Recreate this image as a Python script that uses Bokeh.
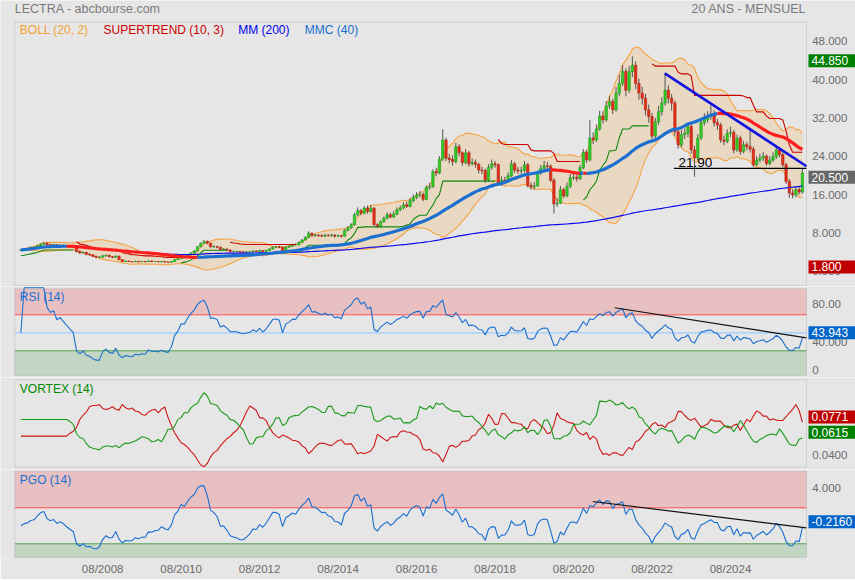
import numpy as np
import pandas as pd
from bokeh.plotting import figure
from bokeh.models import Range1d, FixedTicker, Label, BoxAnnotation
from bokeh.layouts import column
from bokeh.embed import file_html
from bokeh.resources import INLINE

# ---------------- data (monthly, Jul 2006 -> Jun 2026) ----------------
START_YEAR, START_MONTH = 2006, 7
close = [
    4.4, 4.6, 4.7, 4.9, 5.0, 5.3, 5.6, 5.8, 5.5, 5.4,
    5.5, 5.3, 5.4, 5.3, 5.2, 5.1, 5.0, 4.1, 3.8, 3.9,
    3.5, 3.4, 3.1, 2.9, 2.9, 3.2, 3.3, 3.0, 2.9, 3.1,
    2.4, 2.0, 2.1, 2.0, 1.95, 2.05, 1.95, 2.0, 1.95, 2.1,
    2.0, 2.0, 1.95, 2.0, 1.9, 1.85, 2.0, 2.4, 2.6, 3.0,
    3.0, 3.4, 3.8, 4.2, 5.1, 5.8, 6.2, 5.85, 5.1, 5.1,
    5.0, 4.45, 4.6, 4.4, 4.1, 4.1, 4.1, 4.0, 3.95, 4.0,
    4.05, 4.2, 4.1, 4.3, 4.1, 4.3, 4.6, 5.0, 5.05, 5.0,
    4.3, 5.0, 5.2, 5.5, 5.5, 6.0, 6.5, 7.0, 7.9, 7.4,
    7.5, 7.4, 7.3, 7.5, 7.4, 7.5, 7.3, 7.4, 7.3, 8.5,
    9.0, 9.7, 11.75, 12.65, 12.1, 13.15, 12.45, 13.15, 9.7, 9.3,
    10.35, 11.05, 11.75, 11.3, 11.9, 12.8, 13.2, 13.85, 13.5, 14.7,
    15.4, 15.9, 16.0, 15.0, 17.5, 17.6, 20.8, 20.5, 23.4, 27.4,
    23.6, 23.3, 22.9, 26.0, 24.7, 22.7, 24.7, 22.4, 22.7, 22.3,
    21.1, 21.0, 19.0, 21.7, 22.4, 22.2, 18.4, 19.0, 18.8, 19.9,
    22.4, 21.1, 20.9, 21.0, 22.2, 17.9, 17.6, 17.8, 20.5, 21.5,
    22.0, 21.9, 19.0, 14.0, 14.2, 17.0, 15.7, 17.7, 19.5, 19.6,
    19.3, 21.6, 24.8, 23.2, 27.8, 27.4, 29.7, 32.4, 31.6, 34.5,
    35.4, 33.7, 37.2, 39.2, 41.7, 37.8, 41.7, 43.0, 39.2, 37.2,
    36.1, 33.7, 32.3, 28.2, 31.2, 33.3, 35.1, 37.8, 36.1, 35.1,
    29.1, 26.4, 28.5, 28.8, 30.2, 25.3, 23.6, 27.8, 31.0, 31.6,
    32.3, 32.6, 31.0, 30.5, 27.4, 27.1, 28.8, 29.0, 25.3, 27.8,
    25.0, 26.4, 26.0, 25.5, 22.2, 23.2, 23.6, 24.0, 22.5, 23.2,
    23.9, 25.3, 24.3, 22.2, 18.7, 16.3, 15.9, 17.0, 16.5, 20.5,
]
high = [
    4.6, 4.8, 4.9, 5.1, 5.2, 5.5, 5.8, 6.1, 6.0, 5.7,
    5.7, 5.6, 5.6, 5.6, 5.5, 5.4, 5.3, 5.1, 4.3, 4.1,
    4.0, 3.7, 3.5, 3.2, 3.1, 3.4, 3.5, 3.4, 3.1, 3.3,
    3.2, 2.5, 2.2, 2.2, 2.1, 2.15, 2.1, 2.1, 2.1, 2.2,
    2.2, 2.1, 2.1, 2.1, 2.05, 2.0, 2.1, 2.5, 2.7, 3.1,
    3.2, 3.5, 3.9, 4.4, 5.2, 6.0, 6.5, 6.4, 5.9, 5.4,
    5.3, 5.1, 4.8, 4.7, 4.5, 4.3, 4.3, 4.2, 4.2, 4.2,
    4.2, 4.4, 4.3, 4.5, 4.4, 4.5, 4.8, 5.2, 5.3, 5.3,
    5.1, 5.2, 5.4, 5.7, 5.8, 6.2, 6.7, 7.3, 8.3, 8.1,
    7.8, 7.7, 7.7, 7.8, 7.7, 7.8, 7.7, 7.6, 7.6, 8.8,
    9.4, 10.0, 12.2, 13.3, 13.0, 13.6, 13.7, 13.8, 13.3, 10.0,
    10.6, 11.4, 12.3, 12.2, 12.5, 13.3, 13.7, 14.4, 14.5, 15.2,
    16.0, 16.5, 16.7, 16.4, 17.9, 18.4, 21.3, 21.6, 24.0, 29.6,
    27.9, 24.5, 24.2, 26.8, 26.5, 25.0, 25.5, 25.1, 23.5, 23.3,
    22.6, 21.8, 21.4, 22.3, 23.3, 23.0, 22.5, 19.8, 19.7, 20.6,
    23.2, 22.8, 21.8, 21.8, 23.0, 22.6, 18.5, 18.6, 21.0, 22.2,
    23.0, 22.8, 22.3, 19.4, 15.3, 17.8, 17.4, 18.5, 20.3, 20.4,
    20.2, 22.2, 25.5, 25.3, 31.5, 29.0, 30.6, 33.5, 33.4, 35.5,
    36.6, 36.0, 38.5, 41.0, 43.0, 42.3, 42.8, 44.85, 43.8, 40.2,
    38.5, 37.0, 34.8, 33.0, 32.0, 34.5, 36.3, 41.3, 38.8, 37.0,
    35.6, 29.8, 29.5, 29.8, 31.0, 30.8, 26.2, 28.6, 31.8, 33.0,
    33.4, 34.6, 33.6, 31.8, 31.0, 28.3, 29.6, 30.2, 29.5, 28.5,
    28.3, 27.2, 27.0, 29.5, 26.0, 24.0, 24.5, 24.9, 24.4, 24.0,
    24.8, 26.0, 25.8, 24.8, 22.6, 19.2, 17.0, 17.6, 17.8, 21.3,
]
low = [
    4.2, 4.3, 4.5, 4.6, 4.8, 4.9, 5.2, 5.5, 5.3, 5.2,
    5.3, 5.1, 5.2, 5.1, 5.0, 4.9, 4.8, 3.9, 3.6, 3.6,
    3.3, 3.2, 2.9, 2.7, 2.7, 2.8, 3.0, 2.9, 2.7, 2.8,
    2.3, 1.9, 1.9, 1.9, 1.85, 1.9, 1.85, 1.9, 1.85, 1.9,
    1.9, 1.9, 1.85, 1.85, 1.8, 1.8, 1.8, 1.95, 2.3, 2.5,
    2.8, 2.9, 3.3, 3.7, 4.1, 5.0, 5.7, 5.6, 4.9, 4.9,
    4.8, 4.3, 4.3, 4.2, 3.9, 3.9, 3.9, 3.8, 3.8, 3.8,
    3.9, 3.9, 3.9, 4.0, 3.9, 4.0, 4.2, 4.5, 4.8, 4.8,
    4.1, 4.2, 4.9, 5.1, 5.3, 5.4, 5.9, 6.4, 6.9, 7.2,
    7.2, 7.2, 7.1, 7.1, 7.2, 7.2, 7.0, 7.1, 7.0, 7.2,
    8.3, 8.8, 9.5, 11.5, 11.7, 11.9, 12.0, 12.2, 9.5, 9.0,
    9.1, 10.1, 10.8, 11.0, 11.1, 11.7, 12.5, 12.9, 13.2, 13.3,
    14.4, 15.0, 15.4, 14.6, 14.8, 17.0, 17.4, 19.8, 20.2, 23.0,
    23.0, 22.5, 22.0, 22.5, 24.0, 22.0, 22.3, 21.8, 22.0, 21.6,
    20.4, 20.3, 18.5, 18.6, 21.2, 21.6, 17.9, 17.8, 18.1, 18.4,
    19.6, 20.5, 20.3, 20.3, 20.6, 17.5, 17.0, 17.1, 17.6, 20.1,
    21.1, 21.3, 18.6, 12.0, 13.4, 14.0, 15.2, 15.4, 17.3, 19.0,
    18.7, 19.0, 21.3, 22.6, 22.9, 26.5, 27.0, 29.3, 30.8, 31.2,
    33.9, 32.8, 33.3, 36.5, 38.6, 36.5, 37.2, 40.5, 38.0, 35.8,
    34.8, 32.5, 31.0, 27.5, 27.5, 30.5, 32.5, 34.5, 35.0, 33.5,
    28.3, 25.6, 25.8, 27.6, 28.0, 24.5, 19.7, 23.2, 27.3, 30.4,
    31.0, 31.6, 30.2, 29.5, 26.8, 26.3, 26.7, 28.0, 24.6, 24.9,
    24.3, 24.6, 25.2, 24.8, 21.8, 21.9, 22.7, 23.0, 22.0, 22.1,
    22.8, 23.4, 23.8, 21.7, 18.2, 15.3, 15.2, 15.4, 16.0, 16.2,
]
first_open = 4.3
opens = [first_open] + close[:-1]          # monthly open = previous close

x_tick_labels = ["08/2008", "08/2010", "08/2012", "08/2014", "08/2016",
                 "08/2018", "08/2020", "08/2022", "08/2024"]
price_ticks = [48, 40, 32, 24, 16, 8, 0]
rsi_ticks = [(80, "80.00"), (40, "40.000"), (0, "0")]
vortex_ticks = [(0.08, "0.0800"), (0.04, "0.0400")]
pgo_ticks = [(4, "4.000"), (0, "0.000")]

# annotations
price_trend_x, price_trend_y = [196.9, 240.24], [41.3, 21.9]
support_x, support_y = [199.7, 240.24], [21.45, 21.45]
support_text = "21.90"
rsi_trend_x, rsi_trend_y = [181.6, 240.24], [77.8, 44.4]
pgo_trend_x, pgo_trend_y = [174.9, 240.24], [2.7, -0.22]
box_main = [("44.850", 44.85, "#007f00"), ("20.500", 20.5, "#676767"), ("1.800", 1.8, "#c00000")]
box_rsi = [("43.943", 43.943, "#0064c8")]
box_vortex = [("0.0771", 0.0771, "#c00000"), ("0.0615", 0.0615, "#007f00")]
box_pgo = [("-0.2160", -0.216, "#0064c8")]

# ---------------- indicators ----------------
n = len(close)
idx = np.arange(n)
months = []
yy, mm = START_YEAR, START_MONTH
for _ in range(n):
    months.append(f"{mm:02d}/{yy}")
    mm += 1
    if mm > 12:
        mm, yy = 1, yy + 1

df = pd.DataFrame(dict(o=opens, h=high, l=low, c=close))
c = df.c
bb_mid = c.rolling(20, min_periods=1).mean()
bb_sd = c.rolling(20, min_periods=1).std(ddof=0).fillna(0)
bb_up = bb_mid + 2 * bb_sd
bb_lo = bb_mid - 2 * bb_sd

prev_c = c.shift(1).fillna(df.o)
tr = pd.concat([df.h - df.l, (df.h - prev_c).abs(), (df.l - prev_c).abs()], axis=1).max(axis=1)

atr10 = tr.ewm(alpha=1 / 10, adjust=False).mean()
hl2 = (df.h + df.l) / 2
bu = (hl2 + 3 * atr10).values
bl = (hl2 - 3 * atr10).values
fu = bu.copy(); fl = bl.copy(); trend = np.ones(n, dtype=int)
cv = c.values
for i in range(1, n):
    fu[i] = bu[i] if (bu[i] < fu[i - 1] or cv[i - 1] > fu[i - 1]) else fu[i - 1]
    fl[i] = bl[i] if (bl[i] > fl[i - 1] or cv[i - 1] < fl[i - 1]) else fl[i - 1]
    if trend[i - 1] == 1 and cv[i] < fl[i]:
        trend[i] = -1
    elif trend[i - 1] == -1 and cv[i] > fu[i]:
        trend[i] = 1
    else:
        trend[i] = trend[i - 1]
st = np.where(trend == 1, fl, fu)

mm200 = c.rolling(200, min_periods=1).mean()
mmc40 = c.rolling(40, min_periods=1).mean()

d = c.diff().fillna(0)
gain = d.clip(lower=0).ewm(alpha=1 / 14, adjust=False).mean()
loss = (-d.clip(upper=0)).ewm(alpha=1 / 14, adjust=False).mean()
rsi = (100 - 100 / (1 + gain / loss.replace(0, np.nan))).fillna(100)
rsi.iloc[0] = 50

vmp = (df.h - df.l.shift(1)).abs()
vmm = (df.l - df.h.shift(1)).abs()
vip = (vmp.rolling(14).sum() / tr.rolling(14).sum() / 14).bfill()
vim = (vmm.rolling(14).sum() / tr.rolling(14).sum() / 14).bfill()

pgo = ((c - c.rolling(14, min_periods=1).mean()) / tr.ewm(span=14, adjust=False).mean()).fillna(0)

# ---------------- layout helpers (page pixel geometry) ----------------
BG = "#e6e6e6"
FONT = "Liberation Sans"
AX_COL = "#6b6b6b"
W = 855
X0, DX = 20.4, 3.27                     # page x of first candle, px per month


def xi(px):
    return (px - X0) / DX


xr = Range1d(xi(0), xi(W))
PX_L, PX_R = xi(14.3), xi(806)          # panel frame left / right


class Panel:
    def __init__(self, fig_top, fig_bot, v_ref, y_ref, k, box_top, box_bot, axis=False):
        self.v_ref, self.y_ref, self.k = v_ref, y_ref, k
        frame_bot = fig_bot if not axis else fig_bot - 21
        self.p = figure(width=W, frame_width=W, frame_height=frame_bot - fig_top,
                        x_range=xr, y_range=Range1d(self.v(frame_bot), self.v(fig_top)),
                        output_backend="svg", toolbar_location=None,
                        x_axis_location=("below" if axis else None), y_axis_location=None,
                        min_border=0, min_border_left=0, min_border_right=0,
                        min_border_top=0, min_border_bottom=(21 if axis else 0),
                        background_fill_color=BG, border_fill_color=BG,
                        outline_line_color=None)
        self.p.grid.visible = False
        self.top, self.bot = self.v(box_top), self.v(box_bot)

    def v(self, py):
        return self.v_ref + (self.y_ref - py) / self.k

    def frame(self):
        self.p.add_layout(BoxAnnotation(left=PX_L, right=PX_R, top=self.top, bottom=self.bot,
                                        fill_alpha=0, line_color="#9c9c9c", line_width=1))

    def zone(self, lo, hi, color):
        self.p.add_layout(BoxAnnotation(left=PX_L, right=PX_R, bottom=max(lo, self.bot),
                                        top=min(hi, self.top), fill_color=color, fill_alpha=1.0,
                                        line_color=None, level="underlay"))

    def hline(self, yv, color, width=1.0):
        self.p.segment(x0=[PX_L], y0=[yv], x1=[PX_R], y1=[yv], line_color=color, line_width=width)

    def text(self, x, y, t, color, size="12px", xo=0, yo=0, align="left", base="middle"):
        self.p.add_layout(Label(x=x, y=y, x_offset=xo, y_offset=yo, text=t, text_color=color,
                                text_font=FONT, text_font_size=size, text_align=align,
                                text_baseline=base))

    def ticks(self, items, yo=0):
        for v, t in items:
            self.text(PX_R, v, t, AX_COL, size="11.5px", xo=5.7, yo=yo)

    def boxes(self, items, yo):
        for t, v, col in items:
            self.p.add_layout(Label(x=PX_R, y=v, x_offset=2, y_offset=yo, text=t,
                                    text_color="white", text_font=FONT, text_font_size="12px",
                                    text_align="left", text_baseline="middle",
                                    background_fill_color=col, background_fill_alpha=1.0,
                                    padding=dict(left=3, right=16, top=2, bottom=2)))

    def title(self, t, color, yo):
        self.text(PX_L, self.top, t, color, xo=5, yo=yo)


def colored_runs(vals, colors):
    xs, ys, cs = [], [], []
    cur = None
    for i in range(1, len(vals)):
        col = colors[i]
        if col != cur:
            xs.append([i - 1]); ys.append([vals[i - 1]]); cs.append(col); cur = col
        xs[-1].append(i); ys[-1].append(vals[i])
    return xs, ys, cs


# ---- main price panel ----
P1 = Panel(0, 286, 0.0, 270.6, 4.7875, 21.7, 285)
p1 = P1.p
p1.varea(x=idx, y1=bb_lo.values, y2=bb_up.values, fill_color="#e9d8c2", fill_alpha=1.0)
p1.line(idx, bb_up.values, line_color="#f5a445", line_width=1.1)
p1.line(idx, bb_lo.values, line_color="#f5a445", line_width=1.1)

up = df.c >= df.o
body_col = np.where(up, "#33cc22", "#e0301a")
body_line = np.where(up, "#1f9a1f", "#b82010")
p1.segment(x0=idx, y0=df.l, x1=idx, y1=df.h, line_color="#555555", line_width=1)
p1.vbar(x=idx, width=0.72, top=np.maximum(df.o, df.c), bottom=np.minimum(df.o, df.c),
        fill_color=body_col, line_color=body_line, line_width=0.6)

p1.line(idx, mm200.values, line_color="#0a0af0", line_width=1.2)

st_col = np.where(trend == 1, "#118811", "#cc0000")
sxs, sys_, scs = [], [], []
start = 0
for i in range(1, n + 1):
    if i == n or trend[i] != trend[start]:
        sxs.append(list(range(start, i))); sys_.append(list(st[start:i])); scs.append(st_col[start])
        start = i
p1.multi_line(xs=sxs, ys=sys_, line_color=scs, line_width=1.1)

mv = mmc40.values
mcol = ["#1a6fd0"] + ["#ff1e1e" if mv[i] < mv[i - 1] - 1e-9 else "#1a6fd0" for i in range(1, n)]
mx, my, mc = colored_runs(mv, mcol)
p1.multi_line(xs=mx, ys=my, line_color=mc, line_width=3.2)

p1.line(price_trend_x, price_trend_y, line_color="#1414e0", line_width=2.6)
p1.line(support_x, support_y, line_color="#000000", line_width=1.4)
P1.text(xi(678), P1.v(162), support_text, "#000000", size="13.5px")

P1.text(PX_L, P1.v(8.3), "LECTRA - abcbourse.com", "#7a7a7a", size="12.5px")
P1.text(xi(805.7), P1.v(8.3), "20 ANS - MENSUEL", "#7a7a7a", size="12.5px", align="right")
P1.text(PX_L, P1.v(29), "BOLL (20, 2)", "#f5a030", xo=5.0)
P1.text(PX_L, P1.v(29), "SUPERTREND (10, 3)", "#cc0000", xo=88.7)
P1.text(PX_L, P1.v(29), "MM (200)", "#0000ee", xo=223.4)
P1.text(PX_L, P1.v(29), "MMC (40)", "#1a6fd0", xo=290.0)
P1.frame()
P1.ticks([(t, f"{t:.3f}") for t in price_ticks])
P1.boxes(box_main, -4.4)

# ---- RSI panel ----
P2 = Panel(286, 377, 0.0, 377.3, 0.9, 288.3, 375)
p2 = P2.p
P2.zone(70, 200, "#e8c0c1")
P2.zone(-100, 30, "#c3d6c3")
P2.hline(70, "#ff5050")
P2.hline(50, "#9cccff", 1.2)
P2.hline(30, "#4fa34f")
p2.line(idx, rsi.values, line_color="#1a6fd0", line_width=1.1)
p2.line(rsi_trend_x, rsi_trend_y, line_color="#111111", line_width=1.2)
P2.title("RSI (14)", "#1a6fd0", -8.4)
P2.frame()
P2.ticks(rsi_ticks[:1], yo=2)
P2.ticks(rsi_ticks[1:2])
P2.ticks(rsi_ticks[2:], yo=8)
P2.boxes(box_rsi, 5.5)

# ---- VORTEX panel ----
P3 = Panel(377, 469, 0.0615, 436.5, 1 / 0.001026, 379.3, 466.7)
p3 = P3.p
p3.line(idx, vim.values, line_color="#d01818", line_width=1.1)
p3.line(idx, vip.values, line_color="#1a9a1a", line_width=1.1)
P3.title("VORTEX (14)", "#008a00", -9.0)
P3.frame()
P3.ticks(vortex_ticks, yo=2.5)
P3.boxes(box_vortex, 4.8)

# ---- PGO panel ----
P4 = Panel(469, 579, 0.0, 525.3, 9.0, 470.7, 557.3, axis=True)
p4 = P4.p
P4.zone(2, 100, "#e8c0c1")
P4.zone(-100, -2, "#c3d6c3")
P4.hline(2, "#ff5050")
P4.hline(-2, "#4fa34f")
p4.line(idx, pgo.values, line_color="#1a6fd0", line_width=1.1)
p4.line(pgo_trend_x, pgo_trend_y, line_color="#111111", line_width=1.2)
P4.title("PGO (14)", "#1a6fd0", -8.3)
P4.frame()
P4.ticks(pgo_ticks, yo=2)
P4.boxes(box_pgo, 6)

tick_pos = [months.index(lbl) for lbl in x_tick_labels]
ax = p4.xaxis[0]
ax.ticker = FixedTicker(ticks=tick_pos)
ax.major_label_overrides = {pos: lbl for pos, lbl in zip(tick_pos, x_tick_labels)}
ax.axis_line_color = None
ax.major_tick_line_color = None
ax.minor_tick_line_color = None
ax.major_tick_out = 0
ax.major_tick_in = 0
ax.major_label_standoff = 4
ax.major_label_text_color = AX_COL
ax.major_label_text_font = FONT
ax.major_label_text_font_size = "11.5px"

layout = column(P1.p, P2.p, P3.p, P4.p, spacing=0)
open("out.html", "w").write(file_html(layout, INLINE))
